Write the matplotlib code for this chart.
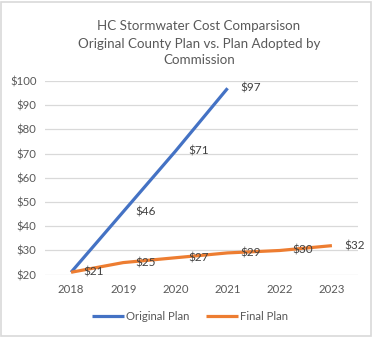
import matplotlib
matplotlib.use("Agg")
import matplotlib.pyplot as plt
from matplotlib.patches import Rectangle

years = ["2018", "2019", "2020", "2021", "2022", "2023"]
original_plan = [21, 46, 71, 97]
final_plan = [21, 25, 27, 29, 30, 32]
yticks = [20, 30, 40, 50, 60, 70, 80, 90, 100]

W, H = 374, 337
fig = plt.figure(figsize=(W / 100, H / 100), dpi=100)
plt.rcParams['font.family'] = ['Lato', 'DejaVu Sans']
txt = '#595959'
fs = 8.2

ax = fig.add_axes([45 / W, 1 - 274.7 / H, (358 - 45) / W, (274.7 - 81) / H])

x_orig = list(range(len(original_plan)))
x_fin = list(range(len(final_plan)))
ax.plot(x_orig, original_plan, color='#4472C4', lw=2.3, solid_capstyle='butt', zorder=3,
        label='Original Plan')
ax.plot(x_fin, final_plan, color='#ED7D31', lw=2.3, solid_capstyle='butt', zorder=3,
        label='Final Plan')

for xi, v in zip(x_orig[1:], original_plan[1:]):
    ax.annotate(f"${v}", (xi, v), xytext=(9, 0), textcoords='offset points',
                va='center', ha='left', fontsize=fs + 0.3, color='#404040', zorder=4)
for xi, v in zip(x_fin, final_plan):
    ax.annotate(f"${v}", (xi, v), xytext=(9, 0), textcoords='offset points',
                va='center', ha='left', fontsize=fs + 0.3, color='#404040', zorder=4)

ax.set_xlim(-0.5, len(years) - 0.5)
ax.set_ylim(20, 100)
ax.set_yticks(yticks)
ax.set_yticklabels([f"${t}" for t in yticks])
ax.set_xticks(x_fin)
ax.set_xticklabels(years)
ax.tick_params(axis='both', length=0, colors=txt, labelsize=fs)
ax.tick_params(axis='y', pad=6)
ax.tick_params(axis='x', pad=7)
ax.grid(axis='y', color='#D9D9D9', lw=0.9)
ax.set_axisbelow(True)
for s in ax.spines.values():
    s.set_visible(False)

fig.text(199 / W, 1 - 43.5 / H,
         "HC Stormwater Cost Comparsison\nOriginal County Plan vs. Plan Adopted by\nCommission",
         ha='center', va='center', fontsize=9.6, color=txt, linespacing=1.5)

leg = fig.legend(loc='center', bbox_to_anchor=(190 / W, 1 - 316.7 / H), ncol=2,
                 frameon=False, fontsize=fs, handlelength=2.8, columnspacing=1.4,
                 handletextpad=0.2)
for t in leg.get_texts():
    t.set_color(txt)

fig.patches.append(Rectangle((1 / W, 1 / H), 370 / W, 334 / H, transform=fig.transFigure,
                             fill=False, edgecolor='#D9D9D9', lw=1.2))

fig.savefig("out.png", dpi=100)
